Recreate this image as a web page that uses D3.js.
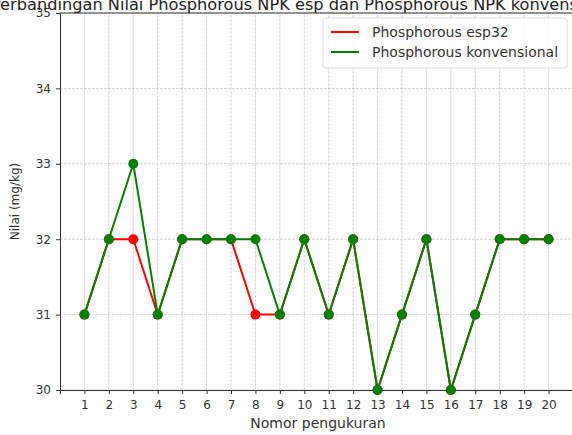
<!DOCTYPE html>
<html>
<head>
<meta charset="utf-8">
<script src="https://cdn.jsdelivr.net/npm/d3@7"></script>
<style>
  body { margin: 0; background: #fff; }
  svg { display: block; font-family: "DejaVu Sans", sans-serif; }
</style>
</head>
<body>
<div id="root"></div>
<script>
const nomor = d3.range(1, 21);
const espValues = [31, 32, 32, 31, 32, 32, 32, 31, 31, 32, 31, 32, 30, 31, 32, 30, 31, 32, 32, 32];
const konvValues = [31, 32, 33, 31, 32, 32, 32, 32, 31, 32, 31, 32, 30, 31, 32, 30, 31, 32, 32, 32];
const yTicks = [30, 31, 32, 33, 34, 35];
const seriesNames = ["Phosphorous esp32", "Phosphorous konvensional"];

let width = 572, height = 435,
    margin = { left: 60, top: 13, right: -1, bottom: 45 };

let svg = d3.select('#root').append('svg')
    .attr('width', width)
    .attr('height', height);

let x = d3.scaleLinear().domain([0, 21]).range([margin.left, width - margin.right]);
let y = d3.scaleLinear().domain([30, 35]).range([height - margin.bottom, margin.top]);

// grid
svg.append('g').selectAll('line.vgrid')
    .data(nomor).enter().append('line')
    .attr('x1', d => x(d)).attr('x2', d => x(d))
    .attr('y1', y(30)).attr('y2', y(35))
    .attr('stroke', '#b8b8b8').attr('stroke-width', 0.8)
    .attr('stroke-dasharray', '3,1').attr('opacity', 0.7);
svg.append('g').selectAll('line.hgrid')
    .data(yTicks).enter().append('line')
    .attr('x1', x(0)).attr('x2', x(21))
    .attr('y1', d => y(d)).attr('y2', d => y(d))
    .attr('stroke', '#b8b8b8').attr('stroke-width', 0.8)
    .attr('stroke-dasharray', '3,1').attr('opacity', 0.7);

// axes
let xAxis = svg.append('g')
    .attr('transform', 'translate(0,' + y(30) + ')')
    .call(d3.axisBottom(x).tickValues(nomor).tickFormat(d3.format('d')).tickSize(4).tickPadding(6));
let yAxis = svg.append('g')
    .attr('transform', 'translate(' + x(0) + ',0)')
    .call(d3.axisLeft(y).tickValues(yTicks).tickFormat(d3.format('d')).tickSize(4).tickPadding(5));
[xAxis, yAxis].forEach(a => {
    a.selectAll('text').attr('font-size', 12).attr('fill', '#333').attr('font-family', '"DejaVu Sans", sans-serif');
    a.selectAll('line').attr('stroke', '#333');
    a.select('.domain').attr('stroke', '#333').attr('stroke-width', 1);
});
// top spine
svg.append('line')
    .attr('x1', x(0)).attr('x2', x(21))
    .attr('y1', y(35)).attr('y2', y(35))
    .attr('stroke', '#333');

// lines + markers
let line = d3.line().x((d, i) => x(nomor[i])).y(d => y(d));
[[espValues, 'red'], [konvValues, 'green']].forEach(([vals, color]) => {
    svg.append('path')
        .datum(vals)
        .attr('d', line)
        .attr('fill', 'none')
        .attr('stroke', color)
        .attr('stroke-width', 2);
    svg.append('g').selectAll('circle')
        .data(vals).enter().append('circle')
        .attr('cx', (d, i) => x(nomor[i]))
        .attr('cy', d => y(d))
        .attr('r', 5)
        .attr('fill', color);
});

// labels
svg.append('text')
    .attr('x', 304).attr('y', 10)
    .attr('text-anchor', 'middle').attr('font-size', 16.2).attr('fill', '#222')
    .text('Perbandingan Nilai Phosphorous NPK esp dan Phosphorous NPK konvensional');
svg.append('text')
    .attr('x', 318).attr('y', 428)
    .attr('text-anchor', 'middle').attr('font-size', 14).attr('fill', '#333')
    .text('Nomor pengukuran');
svg.append('text')
    .attr('transform', 'translate(19,' + ((y(30) + y(35)) / 2) + ') rotate(-90)')
    .attr('text-anchor', 'middle').attr('font-size', 12).attr('fill', '#333')
    .text('Nilai (mg/kg)');

// legend
let legend = svg.append('g').attr('transform', 'translate(323,18)');
legend.append('rect')
    .attr('width', 244).attr('height', 50).attr('rx', 3)
    .attr('fill', '#fff').attr('fill-opacity', 0.85)
    .attr('stroke', '#ddd');
seriesNames.forEach((name, i) => {
    let g = legend.append('g').attr('transform', 'translate(0,' + (14 + i * 20) + ')');
    g.append('line').attr('x1', 8).attr('x2', 36).attr('stroke', i ? 'green' : 'red').attr('stroke-width', 2);
    g.append('text').attr('x', 49).attr('y', 5).attr('font-size', 14).attr('fill', '#333').text(name);
});
</script>
</body>
</html>
